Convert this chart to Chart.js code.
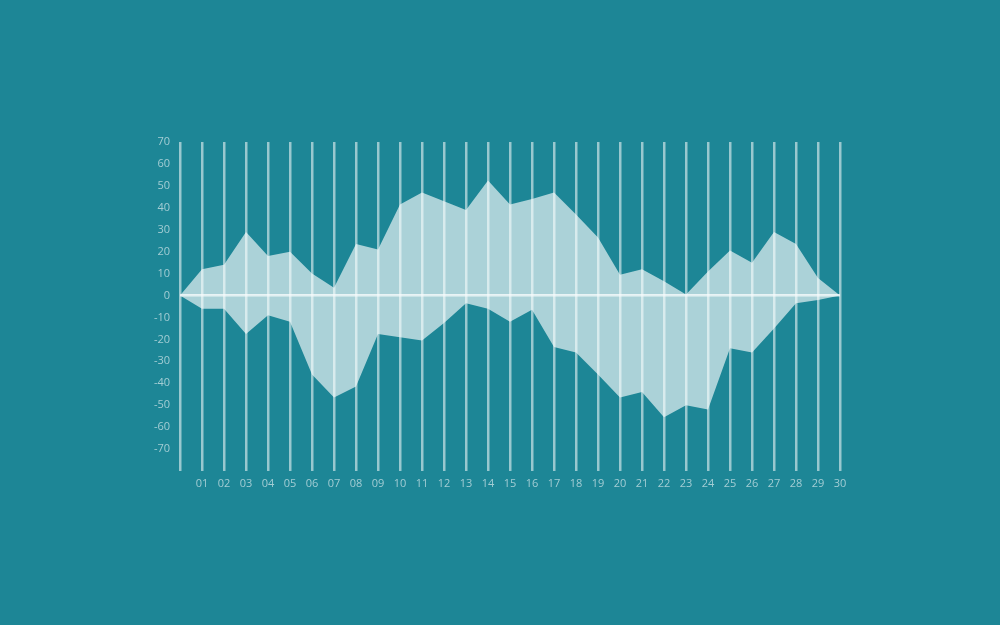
<!DOCTYPE html>
<html>
<head>
<meta charset="utf-8">
<script src="https://cdn.jsdelivr.net/npm/chart.js@4.4.1/dist/chart.umd.min.js"></script>
<style>
    html, body { margin: 0; padding: 0; background: #1d8696; }
    #graphique { display: block; }
</style>
</head>
<body>
<canvas id="graphique" width="1000" height="625"></canvas>
<script>
const jours = ["", "01", "02", "03", "04", "05", "06", "07", "08", "09", "10",
    "11", "12", "13", "14", "15", "16", "17", "18", "19", "20",
    "21", "22", "23", "24", "25", "26", "27", "28", "29", "30"];

const valeursHaut = [0, 12, 14, 29, 18, 20, 10, 3.5, 23.5, 21, 41.5,
    47, 43, 39, 52.5, 41.5, 44, 47, 37, 26.5, 9.5,
    12, 6.5, 0.5, 11, 20.5, 15, 29, 23.5, 8, 0];

const valeursBas = [0, -6, -6, -17.5, -9, -12, -36, -46.5, -41.5, -17.5, -19,
    -20.5, -12.5, -3.5, -6, -12, -6.5, -23.5, -26, -36, -46.5,
    -44, -55.5, -50, -52, -24, -26, -15, -3.5, -2, 0];

const graduationsY = [70, 60, 50, 40, 30, 20, 10, 0, -10, -20, -30, -40, -50, -60, -70];

const couleurRemplissage = "rgba(255,255,255,0.63)";
const couleurLignes = "rgba(255,255,255,0.55)";
const couleurTexte = "#a3cdd4";

const data = {
    labels: jours,
    datasets: [
        {
            data: valeursHaut,
            fill: "origin",
            backgroundColor: couleurRemplissage,
            borderWidth: 0,
            pointRadius: 0,
            tension: 0
        },
        {
            data: valeursBas,
            fill: "origin",
            backgroundColor: couleurRemplissage,
            borderWidth: 0,
            pointRadius: 0,
            tension: 0
        }
    ]
};

const config = {
    type: "line",
    data: data,
    options: {
        responsive: false,
        animation: false,
        layout: { padding: { left: 0, top: 142, right: 160, bottom: 0 } },
        plugins: { legend: { display: false }, tooltip: { enabled: false } },
        scales: {
            x: {
                offset: false,
                border: { display: false },
                grid: { color: couleurLignes, lineWidth: 2.5, drawTicks: false },
                ticks: {
                    color: couleurTexte,
                    padding: 6,
                    maxRotation: 0,
                    autoSkip: false,
                    font: { family: "'Open Sans'", size: 11 }
                },
                afterFit: (scale) => { scale.height = 154; }
            },
            y: {
                min: -80,
                max: 70,
                border: { display: false },
                grid: {
                    drawTicks: false,
                    lineWidth: 2.5,
                    color: (ctx) => ctx.tick && ctx.tick.value === 0 ? "rgba(235,245,247,0.8)" : "rgba(0,0,0,0)"
                },
                ticks: {
                    stepSize: 10,
                    color: couleurTexte,
                    padding: 10,
                    font: { family: "'Open Sans'", size: 11 },
                    callback: (v) => graduationsY.includes(v) ? v : ""
                },
                afterFit: (scale) => { scale.width = 180; }
            }
        }
    }
};

new Chart(document.getElementById("graphique"), config);
</script>
</body>
</html>
